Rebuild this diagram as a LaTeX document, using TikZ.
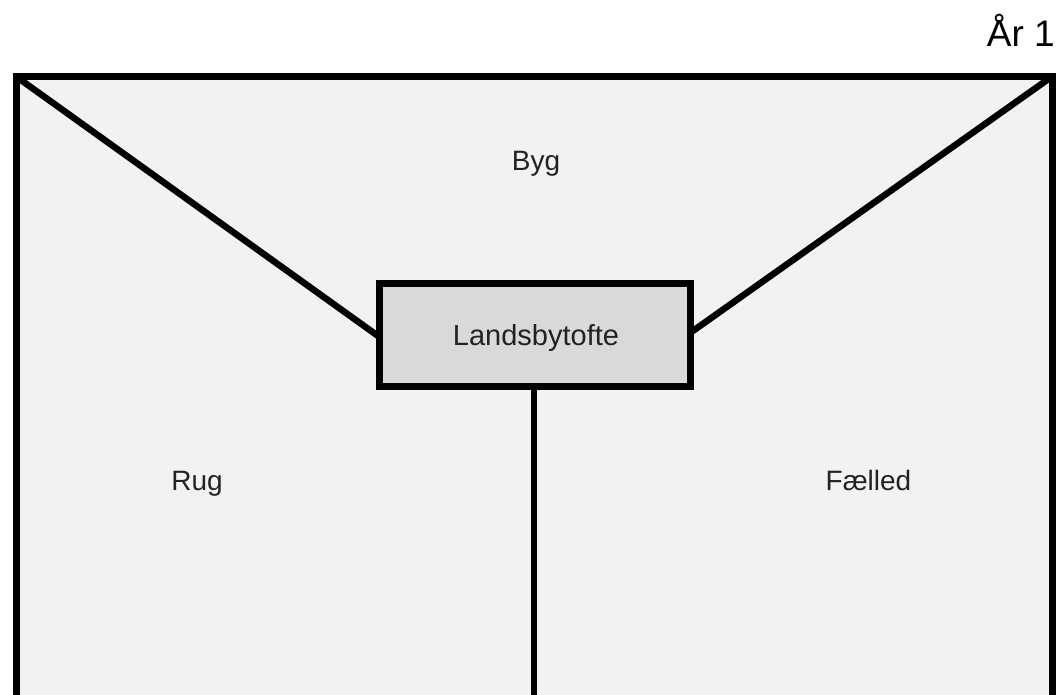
\documentclass[tikz,border=0pt]{standalone}
\usepackage{fontspec}
\setmainfont{Liberation Sans}
\definecolor{fieldfill}{HTML}{F2F2F2}
\definecolor{townfill}{HTML}{D9D9D9}
\definecolor{txt}{HTML}{222222}
\begin{document}
\begin{tikzpicture}[x=1pt,y=-1pt,
  border/.style={line width=7pt,draw=black},
  connector/.style={line width=6.5pt,draw=black},
  lbl/.style={font=\fontsize{28}{30}\selectfont,text=txt,anchor=base,inner sep=0pt},
  townbox/.style={border,fill=townfill,minimum width=310.5pt,minimum height=103pt,inner sep=0pt}]
\useasboundingbox (0,0) rectangle (1057,695);
\clip (0,0) rectangle (1057,695);
\fill[white] (0,0) rectangle (1057,695);
% outer field
\coordinate (tl) at (16,76.5);
\coordinate (tr) at (1052,76.5);
\coordinate (br) at (1052,698);
\coordinate (bm) at (534,700);
\draw[border,fill=fieldfill] (tl) rectangle (br);
% connectors to the town box
\coordinate (lj) at (379.5,337);
\coordinate (rj) at (690,333);
\coordinate (tb) at (534,386.5);
\draw[connector] (tl) -- (lj);
\draw[connector] (tr) -- (rj);
\draw[connector] (tb) -- (bm);
% town box
\node[townbox] (town) at (534.75,335) {};
% labels
\node[lbl,font=\fontsize{29}{30}\selectfont] (ltown) at (536,345) {Landsbytofte};
\node[lbl] (lbyg) at (536,170.5) {Byg};
\node[lbl] (lrug) at (197,490) {Rug};
\node[lbl] (lfaelled) at (868.5,490) {Fælled};
\node[lbl,font=\fontsize{37}{40}\selectfont,text=black,anchor=base east] (year) at (1055,47) {År 1};
\end{tikzpicture}
\end{document}
